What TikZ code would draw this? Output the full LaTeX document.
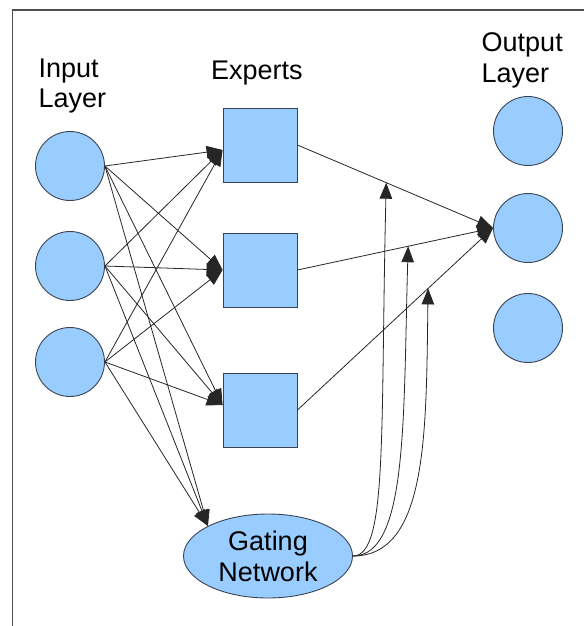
\documentclass[tikz,border=0pt]{standalone}
\usepackage{fontspec}
\setmainfont{Liberation Sans}
\usetikzlibrary{arrows.meta,shapes.geometric}
\definecolor{unitfill}{HTML}{99CCFF}
\definecolor{unitline}{HTML}{3A4450}
\definecolor{framegray}{HTML}{505050}
\begin{document}
\begin{tikzpicture}[x=1pt,y=-1pt,
  unit/.style={circle,draw=unitline,fill=unitfill,line width=0.9pt,
    minimum size=69pt,inner sep=0pt},
  expert/.style={rectangle,draw=unitline,fill=unitfill,line width=0.9pt,
    minimum size=74pt,inner sep=0pt},
  gatenode/.style={ellipse,draw=unitline,fill=unitfill,line width=0.9pt,
    minimum width=169pt,minimum height=84pt,inner sep=0pt,align=center,
    font=\fontsize{27}{31}\selectfont},
  caption/.style={font=\fontsize{27}{30.5}\selectfont,inner sep=0pt,align=left},
  link/.style={draw=black!85,line width=0.8pt,-{Triangle[length=16pt,width=12.5pt]}},
  frameline/.style={draw=framegray,line width=1.5pt},
]
\useasboundingbox (0,0) rectangle (584,626);

% frame
\draw[frameline] (12.5,626) -- (12.5,10) -- (584,10);

% captions
\node[caption,anchor=north west] (capin) at (38.5,58.5) {Input\\Layer};
\node[caption,anchor=base west] (capex) at (211,79) {Experts};
\node[caption,anchor=north west] (capout) at (481.5,32.5) {Output\\Layer};

% input layer
\node[unit] (in1) at (70,166) {};
\node[unit] (in2) at (70,266) {};
\node[unit] (in3) at (70,362) {};

% experts
\node[expert] (ex1) at (260,145) {};
\node[expert] (ex2) at (260,270) {};
\node[expert] (ex3) at (260,410) {};

% output layer
\node[unit] (out1) at (528,131) {};
\node[unit] (out2) at (528,228) {};
\node[unit] (out3) at (528,328) {};

% gating network
\node[gatenode] (gate) at (268,556) {Gating\\Network};

% inputs to experts and to the gate
\foreach \i in {1,2,3}{
  \draw[link] (in\i.east) -- ([yshift=-5pt]ex1.west);
  \draw[link] (in\i.east) -- (ex2.west);
  \draw[link] (in\i.east) -- ([yshift=5pt]ex3.west);
  \draw[link] (in\i.east) -- (gate.north west);
}

% experts to output
\draw[link] (ex1.east) -- coordinate[pos=0.454] (g1) (out2.west);
\draw[link] (ex2.east) -- coordinate[pos=0.566] (g2) (out2.west);
\draw[link] (ex3.east) -- coordinate[pos=0.668] (g3) (out2.west);

% gate weights
\draw[link] (gate.east) .. controls +(35,0) and +(-6,250) .. (g1);
\draw[link] (gate.east) .. controls +(55,0) and +(-5,173) .. (g2);
\draw[link] (gate.east) .. controls +(75,0) and +(-2,143) .. (g3);
\end{tikzpicture}
\end{document}
